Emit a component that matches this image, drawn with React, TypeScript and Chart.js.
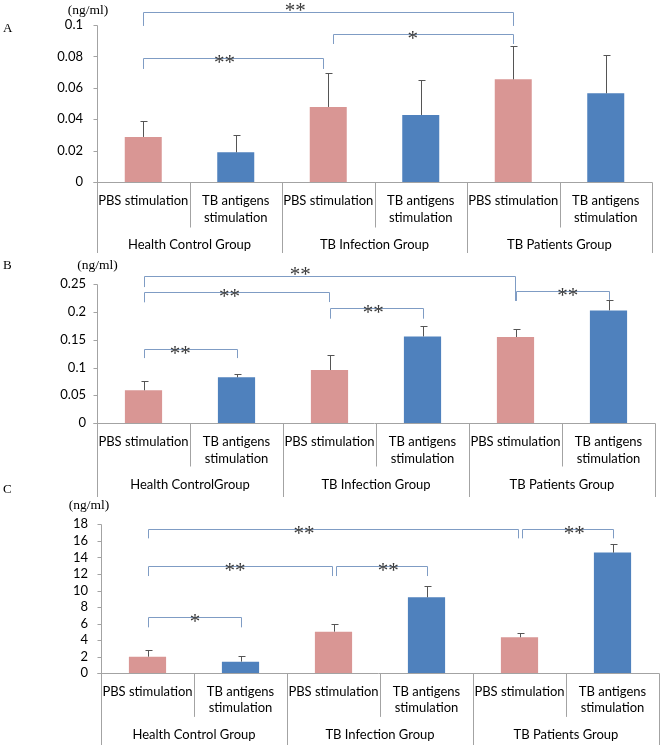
import React, { useEffect, useRef } from "react";
import { Chart, registerables } from "chart.js";

Chart.register(...registerables);

// ---------------- data ----------------
const conditions = ["PBS stimulation", "TB antigens stimulation"];
const conditionLines: string[][] = [["PBS stimulation"], ["TB antigens", "stimulation"]];

const groupsA = ["Health Control Group", "TB Infection Group", "TB Patients Group"];
const groupsB = ["Health ControlGroup", "TB Infection Group", "TB Patients Group"];
const groupsC = ["Health Control Group", "TB Infection Group", "TB Patients Group"];

const unitLabel = "(ng/ml)";

// Panel A
const meansA = [0.0287, 0.0189, 0.0478, 0.0427, 0.0654, 0.0565];
const errorsA = [0.0099, 0.011, 0.0216, 0.0223, 0.0212, 0.0244];
const ticksA = [0, 0.02, 0.04, 0.06, 0.08, 0.1];

// Panel B
const meansB = [0.059, 0.0823, 0.0955, 0.156, 0.155, 0.203];
const errorsB = [0.0167, 0.0066, 0.0265, 0.018, 0.014, 0.018];
const ticksB = [0, 0.05, 0.1, 0.15, 0.2, 0.25];

// Panel C
const meansC = [2.01, 1.41, 5.03, 9.18, 4.35, 14.58];
const errorsC = [0.77, 0.64, 0.89, 1.33, 0.52, 1.01];
const ticksC = [0, 2, 4, 6, 8, 10, 12, 14, 16, 18];

type Bracket = {
  from: number;
  to: number;
  top: number;
  leftEnd: number;
  rightEnd: number;
  mark: string;
  at: number;
  raised?: boolean;
};

const bracketsA: Bracket[] = [
  { from: 0, to: 4, top: 0.1083, leftEnd: 0.0994, rightEnd: 0.0994, mark: "**", at: 0.41, raised: true },
  { from: 0, to: 2, top: 0.079, leftEnd: 0.072, rightEnd: 0.072, mark: "**", at: 0.45 },
  { from: 2, to: 4, top: 0.0943, leftEnd: 0.0879, rightEnd: 0.0879, mark: "*", at: 0.44 },
];

const bracketsB: Bracket[] = [
  { from: 0, to: 4, top: 0.265, leftEnd: 0.245, rightEnd: 0.22, mark: "**", at: 0.42, raised: true },
  { from: 0, to: 2, top: 0.2355, leftEnd: 0.2175, rightEnd: 0.218, mark: "**", at: 0.46 },
  { from: 2, to: 3, top: 0.208, leftEnd: 0.188, rightEnd: 0.188, mark: "**", at: 0.46 },
  { from: 4, to: 5, top: 0.238, leftEnd: 0.22, rightEnd: 0.222, mark: "**", at: 0.55 },
  { from: 0, to: 1, top: 0.1335, leftEnd: 0.117, rightEnd: 0.117, mark: "**", at: 0.385 },
];

const bracketsC: Bracket[] = [
  { from: 0, to: 4, top: 17.47, leftEnd: 16.3, rightEnd: 16.3, mark: "**", at: 0.42 },
  { from: 4, to: 5, top: 17.47, leftEnd: 16.3, rightEnd: 16.3, mark: "**", at: 0.57 },
  { from: 0, to: 2, top: 12.96, leftEnd: 11.75, rightEnd: 11.75, mark: "**", at: 0.47 },
  { from: 2, to: 3, top: 12.96, leftEnd: 11.75, rightEnd: 11.75, mark: "**", at: 0.57 },
  { from: 0, to: 1, top: 6.76, leftEnd: 5.55, rightEnd: 5.55, mark: "*", at: 0.5 },
];

// ---------------- styles ----------------
const PINK = "#D99694";
const BLUE = "#4F81BD";
const barColors = [PINK, BLUE, PINK, BLUE, PINK, BLUE];
const AXIS_COLOR = "#a3a3a3";
const ERR_COLOR = "#555555";
const BRACKET_COLOR = "#7f9cc4";
const MARK_COLOR = "#3a3a3a";
const SANS = "Lato, 'Open Sans', sans-serif";
const SERIF = "'Liberation Serif', 'DejaVu Serif', serif";

type Frame = {
  top: number;
  height: number;
  plotTop: number;
  plotBottom: number;
  plotLeft: number;
  plotRight: number;
  longBottom: number;
  shortDrop: number;
  line1: number;
  line2: number;
  groupLine: number;
  unitX: number;
  unitY: number;
  letterX: number;
  letterY: number;
  legGap: number;
  tickPad: number;
};

type PanelCfg = {
  letter: string;
  groups: string[];
  means: number[];
  errors: number[];
  ticks: number[];
  brackets: Bracket[];
  frame: Frame;
};

const panels: PanelCfg[] = [
  {
    letter: "A",
    groups: groupsA,
    means: meansA,
    errors: errorsA,
    ticks: ticksA,
    brackets: bracketsA,
    frame: {
      top: 0, height: 256, plotTop: 25, plotBottom: 182, plotLeft: 97, plotRight: 652,
      longBottom: 253, shortDrop: 45, line1: 19, line2: 36, groupLine: 63,
      unitX: 88, unitY: 10, letterX: 3, letterY: 29, legGap: 10, tickPad: 14,
    },
  },
  {
    letter: "B",
    groups: groupsB,
    means: meansB,
    errors: errorsB,
    ticks: ticksB,
    brackets: bracketsB,
    frame: {
      top: 250, height: 250, plotTop: 284.3, plotBottom: 423, plotLeft: 97, plotRight: 655,
      longBottom: 497, shortDrop: 43, line1: 18.7, line2: 35.7, groupLine: 62,
      unitX: 97.5, unitY: 265, letterX: 3, letterY: 266, legGap: 1, tickPad: 11,
    },
  },
  {
    letter: "C",
    groups: groupsC,
    means: meansC,
    errors: errorsC,
    ticks: ticksC,
    brackets: bracketsC,
    frame: {
      top: 478, height: 267, plotTop: 524.3, plotBottom: 673.3, plotLeft: 101, plotRight: 659,
      longBottom: 745, shortDrop: 43.4, line1: 18.4, line2: 35, groupLine: 61.7,
      unitX: 89, unitY: 505, letterX: 3, letterY: 490, legGap: 4, tickPad: 13,
    },
  },
];

const crisp = (v: number) => Math.round(v) + 0.5;
const fmt = (v: number | string) => String(Number(Number(v).toFixed(4)));

function decorPlugin(cfg: PanelCfg) {
  const f = cfg.frame;
  return {
    id: "decor" + cfg.letter,
    afterDatasetsDraw(chart: any) {
      const ctx: CanvasRenderingContext2D = chart.ctx;
      const y = chart.scales.y;
      const meta = chart.getDatasetMeta(0);
      ctx.save();
      ctx.strokeStyle = ERR_COLOR;
      ctx.lineWidth = 1;
      cfg.means.forEach((m, i) => {
        const x = crisp(meta.data[i].x);
        const y0 = y.getPixelForValue(m);
        const y1 = crisp(y.getPixelForValue(m + cfg.errors[i]));
        ctx.beginPath();
        ctx.moveTo(x, y0);
        ctx.lineTo(x, y1);
        ctx.moveTo(x - 3, y1);
        ctx.lineTo(x + 4, y1);
        ctx.stroke();
      });
      ctx.restore();
    },
    afterDraw(chart: any) {
      const ctx: CanvasRenderingContext2D = chart.ctx;
      const y = chart.scales.y;
      const area = chart.chartArea;
      const meta = chart.getDatasetMeta(0);
      const centers: number[] = meta.data.map((d: any) => d.x);
      const left = crisp(area.left);
      const bottom = crisp(area.bottom);
      const longB = f.longBottom - f.top;

      ctx.save();
      ctx.lineWidth = 1;
      ctx.strokeStyle = AXIS_COLOR;
      ctx.beginPath();
      // y axis (continues down as left frame)
      ctx.moveTo(left, crisp(area.top));
      ctx.lineTo(left, longB);
      // x axis
      ctx.moveTo(left - 4, bottom);
      ctx.lineTo(crisp(area.right), bottom);
      // y ticks
      cfg.ticks.forEach((t) => {
        const py = crisp(y.getPixelForValue(t));
        ctx.moveTo(left - 4, py);
        ctx.lineTo(left, py);
      });
      // category dividers
      for (let i = 0; i < centers.length - 1; i++) {
        const dx = crisp((centers[i] + centers[i + 1]) / 2);
        ctx.moveTo(dx, bottom);
        ctx.lineTo(dx, i % 2 === 1 ? longB : bottom + f.shortDrop);
      }
      ctx.moveTo(crisp(area.right), bottom);
      ctx.lineTo(crisp(area.right), longB);
      ctx.stroke();

      // category labels
      ctx.fillStyle = "#000";
      ctx.font = `13px ${SANS}`;
      ctx.textAlign = "center";
      ctx.textBaseline = "middle";
      centers.forEach((cx, i) => {
        const lines = conditionLines[i % 2];
        lines.forEach((ln, k) => {
          ctx.fillText(ln, cx, area.bottom + (k === 0 ? f.line1 : f.line2));
        });
      });
      // group labels
      cfg.groups.forEach((g, gi) => {
        const gx = (centers[gi * 2] + centers[gi * 2 + 1]) / 2;
        ctx.fillText(g, gx, area.bottom + f.groupLine);
      });

      // unit + panel letter
      ctx.font = `13.5px ${SERIF}`;
      ctx.fillText(unitLabel, f.unitX, f.unitY - f.top);
      ctx.textAlign = "left";
      ctx.font = `13px ${SERIF}`;
      ctx.fillText(cfg.letter, f.letterX, f.letterY - f.top);

      // significance brackets
      ctx.strokeStyle = BRACKET_COLOR;
      ctx.fillStyle = MARK_COLOR;
      ctx.textAlign = "center";
      ctx.font = `21px ${SERIF}`;
      cfg.brackets.forEach((b) => {
        const sharedL = cfg.brackets.some((o) => o !== b && o.to === b.from);
        const sharedR = cfg.brackets.some((o) => o !== b && o.from === b.to);
        const xl = crisp(centers[b.from] + (sharedL ? f.legGap / 2 : 0));
        const xr = crisp(centers[b.to] - (sharedR ? f.legGap / 2 : 0));
        const yt = crisp(y.getPixelForValue(b.top));
        ctx.beginPath();
        ctx.moveTo(xl, y.getPixelForValue(b.leftEnd));
        ctx.lineTo(xl, yt);
        ctx.lineTo(xr, yt);
        ctx.lineTo(xr, y.getPixelForValue(b.rightEnd));
        ctx.stroke();
        const tx = xl + (xr - xl) * b.at;
        ctx.fillText(b.mark, tx, yt + 5 - (b.raised ? 6 : 0));
      });
      ctx.restore();
    },
  };
}

function Panel({ cfg }: { cfg: PanelCfg }) {
  const ref = useRef<HTMLCanvasElement>(null);
  useEffect(() => {
    const canvas = ref.current;
    if (!canvas) return;
    const f = cfg.frame;
    const categories = cfg.groups.flatMap((g) => conditions.map((c) => `${g} - ${c}`));
    const chart = new Chart(canvas, {
      type: "bar",
      data: {
        labels: categories,
        datasets: [
          {
            data: cfg.means,
            backgroundColor: barColors,
            borderWidth: 0,
            barPercentage: 0.4,
            categoryPercentage: 1,
          },
        ],
      },
      options: {
        responsive: false,
        animation: false,
        devicePixelRatio: 1,
        layout: { padding: { top: f.plotTop - f.top, right: 660 - f.plotRight, left: 0, bottom: 0 } },
        plugins: { legend: { display: false }, tooltip: { enabled: false }, title: { display: false } },
        scales: {
          x: {
            type: "category",
            grid: { display: false, drawTicks: false },
            border: { display: false },
            ticks: { display: false },
            afterFit: (s: any) => {
              s.height = f.top + f.height - f.plotBottom;
            },
          },
          y: {
            min: cfg.ticks[0],
            max: cfg.ticks[cfg.ticks.length - 1],
            grid: { display: false, drawTicks: false },
            border: { display: false },
            ticks: {
              padding: f.tickPad,
              color: "#000",
              autoSkip: false,
              font: { family: SANS, size: 13 },
              callback: (v: any) => fmt(v),
            },
            afterBuildTicks: (s: any) => {
              s.ticks = cfg.ticks.map((v) => ({ value: v }));
            },
            afterFit: (s: any) => {
              s.width = f.plotLeft;
            },
          },
        },
      } as any,
      plugins: [decorPlugin(cfg)],
    });
    return () => chart.destroy();
  }, [cfg]);
  return (
    <canvas
      ref={ref}
      width={660}
      height={cfg.frame.height}
      style={{ position: "absolute", left: 0, top: cfg.frame.top, width: 660, height: cfg.frame.height }}
    />
  );
}

export default function App() {
  useEffect(() => {
    document.body.style.margin = "0";
    document.body.style.background = "#fff";
  }, []);
  return (
    <div style={{ position: "relative", width: 660, height: 745, background: "#fff", overflow: "hidden" }}>
      {panels.map((p) => (
        <Panel key={p.letter} cfg={p} />
      ))}
    </div>
  );
}
